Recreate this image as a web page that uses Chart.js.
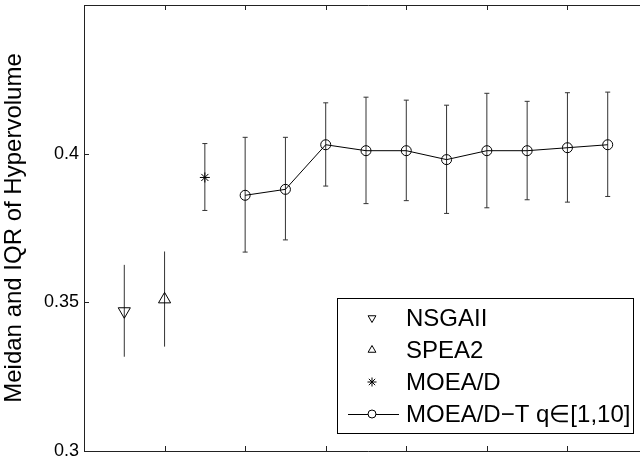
<!DOCTYPE html>
<html>
<head>
<meta charset="utf-8">
<script src="https://cdn.jsdelivr.net/npm/chart.js@4.4.1/dist/chart.umd.min.js"></script>
<style>
  html, body { margin: 0; padding: 0; background: #fff; overflow: hidden; }
  #wrap { width: 660px; height: 463px; margin-top: -3px; }
</style>
</head>
<body>
<div id="wrap"><canvas id="hvChart" width="660" height="463"></canvas></div>
<script>
// Median and IQR of hypervolume, one entry per run position
const methodNames = ['NSGAII', 'SPEA2', 'MOEA/D', 'MOEA/D\u2212T q\u2208[1,10]'];
const positions = [1, 2, 3, 4, 5, 6, 7, 8, 9, 10, 11, 12, 13];
const medians = [0.347, 0.351, 0.392, 0.386, 0.388, 0.403, 0.401, 0.401, 0.398, 0.401, 0.401, 0.402, 0.403];
const upperQ = [0.3626, 0.3671, 0.4034, 0.4055, 0.4055, 0.4171, 0.419, 0.418, 0.4163, 0.4203, 0.4176, 0.4205, 0.4207];
const lowerQ = [0.3317, 0.3351, 0.3809, 0.3669, 0.371, 0.3891, 0.3832, 0.3842, 0.3799, 0.3818, 0.3845, 0.3837, 0.3856];
// which positions belong to which method
const groups = [[0, 1], [1, 2], [2, 3], [3, 13]];
const yTicks = [0.3, 0.35, 0.4, 0.45];
const xTicks = [2, 4, 6, 8, 10, 12];

function points(g) {
    const out = [];
    for (let i = groups[g][0]; i < groups[g][1]; i++) {
        out.push({ x: positions[i], y: medians[i], lo: lowerQ[i], hi: upperQ[i] });
    }
    return out;
}

const FONT = "'Liberation Sans', Arial, sans-serif";

// --- error bars, frame and legend ---
const matlabLook = {
    id: 'matlabLook',
    beforeDatasetsDraw(chart) {
        const { ctx, scales: { x, y } } = chart;
        ctx.save();
        ctx.strokeStyle = '#333';
        ctx.lineWidth = 1;
        chart.data.datasets.forEach(ds => {
            ds.data.forEach(p => {
                const px = x.getPixelForValue(p.x);
                const top = y.getPixelForValue(p.hi);
                const bot = y.getPixelForValue(p.lo);
                ctx.beginPath();
                ctx.moveTo(px, top);
                ctx.lineTo(px, bot);
                if (ds.caps) {
                    ctx.moveTo(px - 2.5, top);
                    ctx.lineTo(px + 2.5, top);
                    ctx.moveTo(px - 2.5, bot);
                    ctx.lineTo(px + 2.5, bot);
                }
                ctx.stroke();
            });
        });
        ctx.restore();
    },
    afterDraw(chart) {
        const { ctx, chartArea: a, scales: { x, y } } = chart;
        ctx.save();
        ctx.strokeStyle = '#222';
        ctx.lineWidth = 1;
        ctx.beginPath();
        ctx.moveTo(a.right + 5, Math.round(a.top) + 0.5);
        ctx.lineTo(Math.round(a.left) + 0.5, Math.round(a.top) + 0.5);
        ctx.lineTo(Math.round(a.left) + 0.5, Math.round(a.bottom) + 0.5);
        ctx.lineTo(a.right + 5, Math.round(a.bottom) + 0.5);
        // inward ticks
        xTicks.forEach(v => {
            const px = Math.round(x.getPixelForValue(v)) + 0.5;
            ctx.moveTo(px, a.top);
            ctx.lineTo(px, a.top + 5);
            ctx.moveTo(px, a.bottom);
            ctx.lineTo(px, a.bottom - 5);
        });
        yTicks.forEach(v => {
            const py = Math.round(y.getPixelForValue(v)) + 0.5;
            ctx.moveTo(a.left, py);
            ctx.lineTo(a.left + 5, py);
        });
        ctx.stroke();

        // legend box (canvas is shifted up 3px, so add 3)
        const L = 337, T = 301, R = 633, B = 436;
        ctx.fillStyle = '#fff';
        ctx.fillRect(L, T, R - L, B - T);
        ctx.strokeStyle = '#000';
        ctx.strokeRect(L + 0.5, T + 0.5, R - L, B - T);
        const rows = [321, 353, 385, 417];
        const mx = 372;
        ctx.font = '24px ' + FONT;
        ctx.textBaseline = 'middle';
        ctx.textAlign = 'left';
        chart.data.datasets.forEach((ds, i) => {
            const ry = rows[i];
            ctx.strokeStyle = '#000';
            ctx.lineWidth = 1;
            if (ds.showLine) {
                ctx.beginPath();
                ctx.moveTo(348, ry + 0.5);
                ctx.lineTo(399, ry + 0.5);
                ctx.stroke();
            }
            ctx.fillStyle = '#fff';
            Chart.helpers.drawPoint(ctx, {
                pointStyle: ds.pointStyle,
                rotation: ds.pointRotation || 0,
                radius: ds.legendRadius,
                borderWidth: 1
            }, mx, ry);
            ctx.fillStyle = '#000';
            ctx.fillText(ds.label, 406, ry + 1);
        });
        ctx.restore();
    }
};

const base = {
    borderColor: '#000',
    backgroundColor: 'rgba(0,0,0,0)',
    pointBorderColor: '#000',
    pointBackgroundColor: 'rgba(0,0,0,0)',
    pointBorderWidth: 1,
    borderWidth: 1,
    showLine: false
};

new Chart(document.getElementById('hvChart'), {
    type: 'line',
    data: {
        datasets: [
            Object.assign({}, base, { label: methodNames[0], data: points(0), pointStyle: 'triangle', pointRotation: 180, pointRadius: 7, legendRadius: 4.5, caps: false }),
            Object.assign({}, base, { label: methodNames[1], data: points(1), pointStyle: 'triangle', pointRadius: 7, legendRadius: 4.5, caps: false }),
            Object.assign({}, base, { label: methodNames[2], data: points(2), pointStyle: 'star', pointRadius: 5, legendRadius: 4.5, caps: true }),
            Object.assign({}, base, { label: methodNames[3], data: points(3), pointStyle: 'circle', pointRadius: 5, legendRadius: 4, caps: true, showLine: true })
        ]
    },
    options: {
        responsive: false,
        animation: false,
        events: [],
        layout: { padding: { top: 2, right: 12, bottom: 9, left: 0 } },
        plugins: { legend: { display: false }, tooltip: { enabled: false } },
        scales: {
            x: {
                type: 'linear',
                min: 0,
                max: 14,
                ticks: { display: false },
                grid: { display: false, drawTicks: false },
                border: { display: false },
                afterFit(scale) {
                    scale.height = 0;
                    scale.paddingLeft = 0; scale.paddingRight = 0;
                    scale.paddingTop = 0; scale.paddingBottom = 0;
                }
            },
            y: {
                type: 'linear',
                min: 0.3,
                max: 0.45,
                afterBuildTicks(scale) { scale.ticks = yTicks.map(v => ({ value: v })); },
                ticks: {
                    color: '#000',
                    padding: 5,
                    font: { family: FONT, size: 18 },
                    callback: v => (v >= 0.449 ? '' : String(+v.toFixed(2)))
                },
                grid: { display: false, drawTicks: false },
                border: { display: false },
                title: {
                    display: true,
                    text: 'Meidan and IQR of Hypervolume',
                    color: '#000',
                    font: { family: FONT, size: 24 },
                    padding: { top: 0, bottom: 0 }
                },
                afterFit(scale) {
                    scale.width = 84;
                    scale.paddingTop = 0; scale.paddingBottom = 0;
                }
            }
        }
    },
    plugins: [matlabLook]
});
</script>
</body>
</html>
